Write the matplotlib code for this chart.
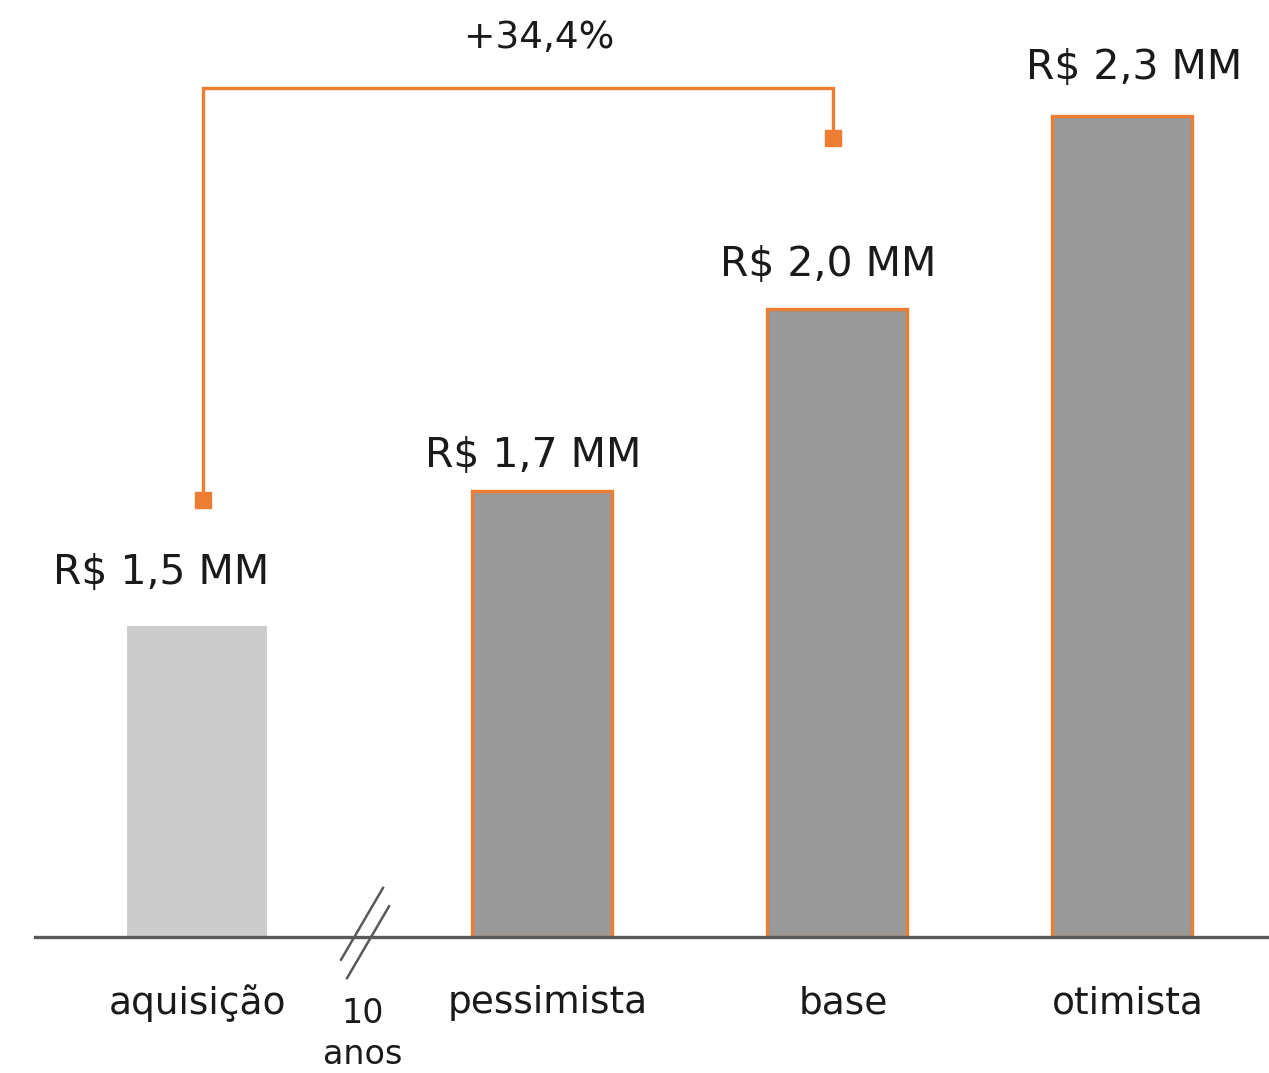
import matplotlib
matplotlib.use("Agg")
import matplotlib.pyplot as plt

# data
categories = ["aquisição", "pessimista", "base", "otimista"]
values = [1.50, 1.720, 2.016, 2.331]
value_labels = ["R$ 1,5 MM", "R$ 1,7 MM", "R$ 2,0 MM", "R$ 2,3 MM"]
growth_label = "+34,4%"
break_label = "10\nanos"

# layout (x in slot units, 1 unit ~ 300 px)
x_pos = [0.0, 1.15, 2.133, 3.083]
bar_w = 0.465
y_min = 0.994
orange = "#ED7D31"
axis_col = "#595959"
txt_col = "#1a1a1a"

plt.rcParams["font.family"] = ["DejaVu Sans"]

fig = plt.figure(figsize=(12.69, 10.73), dpi=100)
ax = fig.add_axes([35 / 1269, 136 / 1073, 1 - 35 / 1269, 1 - 136 / 1073])
ax.set_xlim(-0.54, 3.573)
ax.set_ylim(y_min, y_min + 937 / 614)
ax.axis("off")

heights = [v - y_min for v in values]
ax.bar(x_pos[0], heights[0], bottom=y_min, width=bar_w, color="#cccccc", zorder=2)
ax.bar(x_pos[1:], heights[1:], bottom=y_min, width=bar_w, color="#999999",
       edgecolor=orange, linewidth=2.4, zorder=2)

# baseline
ax.axhline(y_min, color=axis_col, lw=2.4, zorder=3, clip_on=False)

# value labels
gaps = [0.055, 0.025, 0.04, 0.045]
for x, v, lab, g in zip(x_pos, values, value_labels, gaps):
    dx = -0.12 if x == x_pos[0] else (0.04 if x == x_pos[-1] else -0.03)
    ax.text(x + dx, v + g, lab, ha="center", va="bottom", fontsize=29.5, color=txt_col)

# category labels
for x, c in zip(x_pos, categories):
    ax.text(x + (0.02 if c != "aquisição" else 0), y_min - 0.108, c, ha="center",
            va="center", fontsize=27, color=txt_col)

# break marks
bx = 0.55
for off in (0.0, 0.02):
    ax.plot([bx + 0.07 + off, bx - 0.07 + off], [y_min + 0.08 - off * 1.5, y_min - 0.037 - off * 1.5],
            color=axis_col, lw=1.8, clip_on=False, zorder=4)
ax.text(bx + 0.003, y_min - 0.158, break_label, ha="center", va="center",
        fontsize=24, color=txt_col, linespacing=1.3)

# growth bracket
x0 = x_pos[0] + 0.02
x1 = x_pos[2] - 0.013
y_top = y_min + 849 / 614
y_a = values[0] + 0.2
y_b = values[2] + 0.277
ax.plot([x0, x0, x1, x1], [y_a, y_top, y_top, y_b], color=orange, lw=2.4,
        solid_joinstyle="miter", zorder=3)
ax.plot([x0, x1], [y_a + 0.005, y_b + 0.003], "s", color=orange, ms=12, zorder=4)
ax.text((x0 + x1) / 2 + 0.07, y_top + 0.082, growth_label, ha="center", va="center",
        fontsize=27, color=txt_col)

fig.savefig("out.png", dpi=100)
